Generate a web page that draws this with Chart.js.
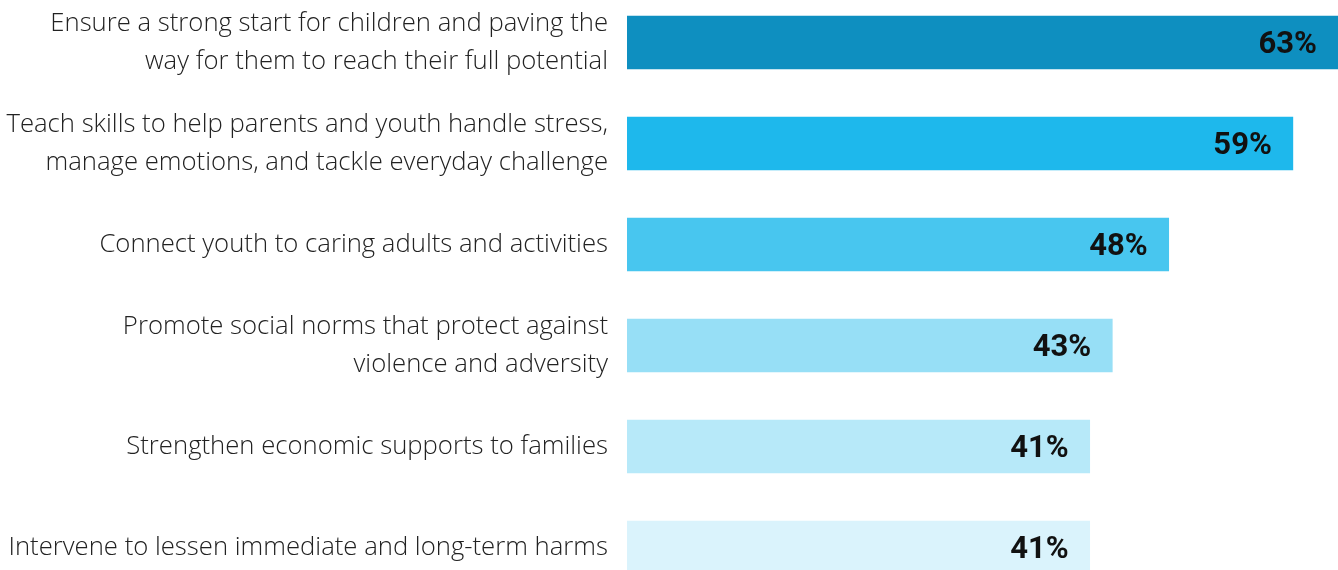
<!DOCTYPE html>
<html>
<head>
<meta charset="utf-8">
<script src="https://cdn.jsdelivr.net/npm/chart.js@4.4.1/dist/chart.umd.min.js"></script>
<style>
  html, body { margin: 0; padding: 0; background: #fff; overflow: hidden; }
  #wrap { position: absolute; left: 0; top: -8px; width: 1338px; height: 606px; }
</style>
</head>
<body>
<div id="wrap"><canvas id="chart"></canvas></div>
<script>
const categories = [
  ["Ensure a strong start for children and paving the", "way for them to reach their full potential"],
  ["Teach skills to help parents and youth handle stress,", "manage emotions, and tackle everyday challenge"],
  "Connect youth to caring adults and activities",
  ["Promote social norms that protect against", "violence and adversity"],
  "Strengthen economic supports to families",
  "Intervene to lessen immediate and long-term harms",
];
const values = [63, 59, 48, 43, 41, 41];
const barColors = ["#0e8fc0", "#1eb8ec", "#48c6ef", "#97dff6", "#b7e9f9", "#daf3fc"];

// percent labels drawn inside the right end of each bar
const valueLabels = {
  id: "valueLabels",
  afterDatasetsDraw(chart) {
    const ctx = chart.ctx;
    const meta = chart.getDatasetMeta(0);
    ctx.save();
    ctx.font = "bold 31px 'Roboto', sans-serif";
    ctx.fillStyle = "#111";
    ctx.textAlign = "right";
    ctx.textBaseline = "middle";
    meta.data.forEach((bar, i) => {
      ctx.fillText(values[i] + "%", bar.x - 21, bar.y + 3);
    });
    ctx.restore();
  },
};

new Chart(document.getElementById("chart"), {
  type: "bar",
  data: {
    labels: categories,
    datasets: [
      {
        data: values,
        backgroundColor: barColors,
        borderWidth: 0,
        barThickness: 53,
      },
    ],
  },
  options: {
    indexAxis: "y",
    responsive: true,
    maintainAspectRatio: false,
    animation: false,
    layout: { padding: 0 },
    plugins: { legend: { display: false }, tooltip: { enabled: false } },
    scales: {
      x: {
        display: false,
        min: 0,
        max: 63,
      },
      y: {
        grid: { display: false, drawTicks: false },
        border: { display: false },
        afterFit: (scale) => {
          scale.width = 627;
          scale.paddingTop = 0;
          scale.paddingBottom = 0;
        },
        ticks: {
          padding: 19,
          color: "#222",
          font: { family: "'Open Sans', sans-serif", size: 25.7, weight: 300, lineHeight: 1.48 },
        },
      },
    },
  },
  plugins: [valueLabels],
});
</script>
</body>
</html>
